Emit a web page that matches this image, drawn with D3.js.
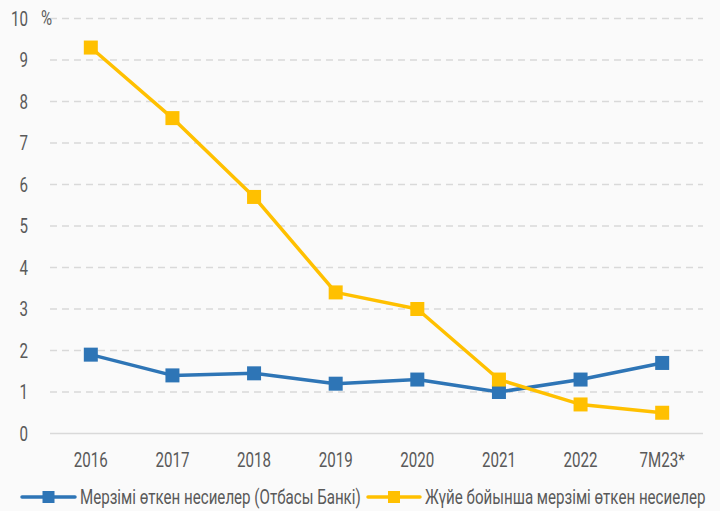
<!DOCTYPE html>
<html>
<head>
<meta charset="utf-8">
<script src="https://cdn.jsdelivr.net/npm/d3@7"></script>
<style>
  html, body { margin: 0; padding: 0; background: #fafafa; }
  svg { display: block; }
  text { font-family: Roboto, "Noto Sans", sans-serif; fill: #595959; }
</style>
</head>
<body>
<svg id="chart" width="720" height="511"></svg>
<script>
// Categories and series (percent)
const categories = ["2016", "2017", "2018", "2019", "2020", "2021", "2022", "7М23*"];
const otbasyValues = [1.9, 1.4, 1.45, 1.2, 1.3, 1.0, 1.3, 1.7];
const systemValues = [9.3, 7.6, 5.7, 3.4, 3.0, 1.3, 0.7, 0.5];
const yTicks = [0, 1, 2, 3, 4, 5, 6, 7, 8, 9, 10];
const seriesNames = ["Мерзімі өткен несиелер (Отбасы Банкі)", "Жүйе бойынша мерзімі өткен несиелер"];
const colors = ["#2e75b6", "#ffc000"];

const svg = d3.select("#chart");
const margin = { left: 50, right: 17, top: 18.5, bottom: 77.5 };
const W = 720, H = 511;
const FONT = 21;
const SQUEEZE = 0.72; // horizontal scale for a condensed look

const x = d3.scaleBand().domain(categories).range([margin.left, W - margin.right]);
const y = d3.scaleLinear().domain([0, 10]).range([H - margin.bottom, margin.top]);

// Gridlines
svg.append("g").selectAll("line").data(yTicks.filter(d => d > 0)).join("line")
  .attr("x1", margin.left).attr("x2", W - margin.right)
  .attr("y1", d => y(d)).attr("y2", d => y(d))
  .attr("stroke", "#d9d9d9").attr("stroke-width", 1.5)
  .attr("stroke-dasharray", "7,5");

// Baseline
svg.append("line")
  .attr("x1", margin.left).attr("x2", W - margin.right)
  .attr("y1", y(0)).attr("y2", y(0))
  .attr("stroke", "#d9d9d9").attr("stroke-width", 1.5);

// Y axis labels
const yAxis = d3.axisLeft(y).tickValues(yTicks).tickSize(0).tickPadding(0).tickFormat(d3.format("d"));
const gy = svg.append("g").attr("transform", "translate(28,0)").call(yAxis);
gy.select(".domain").remove();
gy.selectAll("text").attr("font-size", FONT).attr("fill", "#595959")
  .style("font-family", "Roboto, sans-serif")
  .attr("transform", `scale(${SQUEEZE},1)`);

svg.append("text").attr("transform", `translate(41,${y(10)}) scale(${SQUEEZE},1)`)
  .attr("dy", "0.32em").attr("font-size", FONT).text("%");

// X axis labels
const xAxis = d3.axisBottom(x).tickSize(0).tickPadding(0);
const gx = svg.append("g").attr("transform", `translate(0,${y(0) + 19})`).call(xAxis);
gx.select(".domain").remove();
gx.selectAll("text").attr("font-size", FONT).attr("fill", "#595959").attr("dy", "0.71em")
  .style("font-family", "Roboto, sans-serif")
  .attr("transform", `scale(${SQUEEZE},1)`);

// Lines and markers
const cx = d => x(d) + x.bandwidth() / 2;
const line = d3.line().x(d => cx(d[0])).y(d => y(d[1]));
const ms = 14;

[otbasyValues, systemValues].forEach((vals, i) => {
  const pts = categories.map((c, j) => [c, vals[j]]);
  const g = svg.append("g");
  g.append("path").datum(pts).attr("d", line)
    .attr("fill", "none").attr("stroke", colors[i]).attr("stroke-width", 3.5)
    .attr("stroke-linejoin", "round");
  g.selectAll("rect").data(pts).join("rect")
    .attr("x", d => cx(d[0]) - ms / 2).attr("y", d => y(d[1]) - ms / 2)
    .attr("width", ms).attr("height", ms).attr("fill", colors[i]);
});

// Legend
const legendY = 497;
const legendItems = [
  { x0: 22, x1: 75, tx: 80 },
  { x0: 368, x1: 420, tx: 425 }
];
legendItems.forEach((it, i) => {
  const g = svg.append("g");
  g.append("line").attr("x1", it.x0).attr("x2", it.x1).attr("y1", legendY).attr("y2", legendY)
    .attr("stroke", colors[i]).attr("stroke-width", 3.5).attr("stroke-linecap", "round");
  const mx = (it.x0 + it.x1) / 2;
  g.append("rect").attr("x", mx - 6).attr("y", legendY - 6).attr("width", 12).attr("height", 12)
    .attr("fill", colors[i]);
  g.append("text").attr("transform", `translate(${it.tx},${legendY}) scale(${SQUEEZE},1)`)
    .attr("dy", "0.35em").attr("font-size", FONT).text(seriesNames[i]);
});
</script>
</body>
</html>
